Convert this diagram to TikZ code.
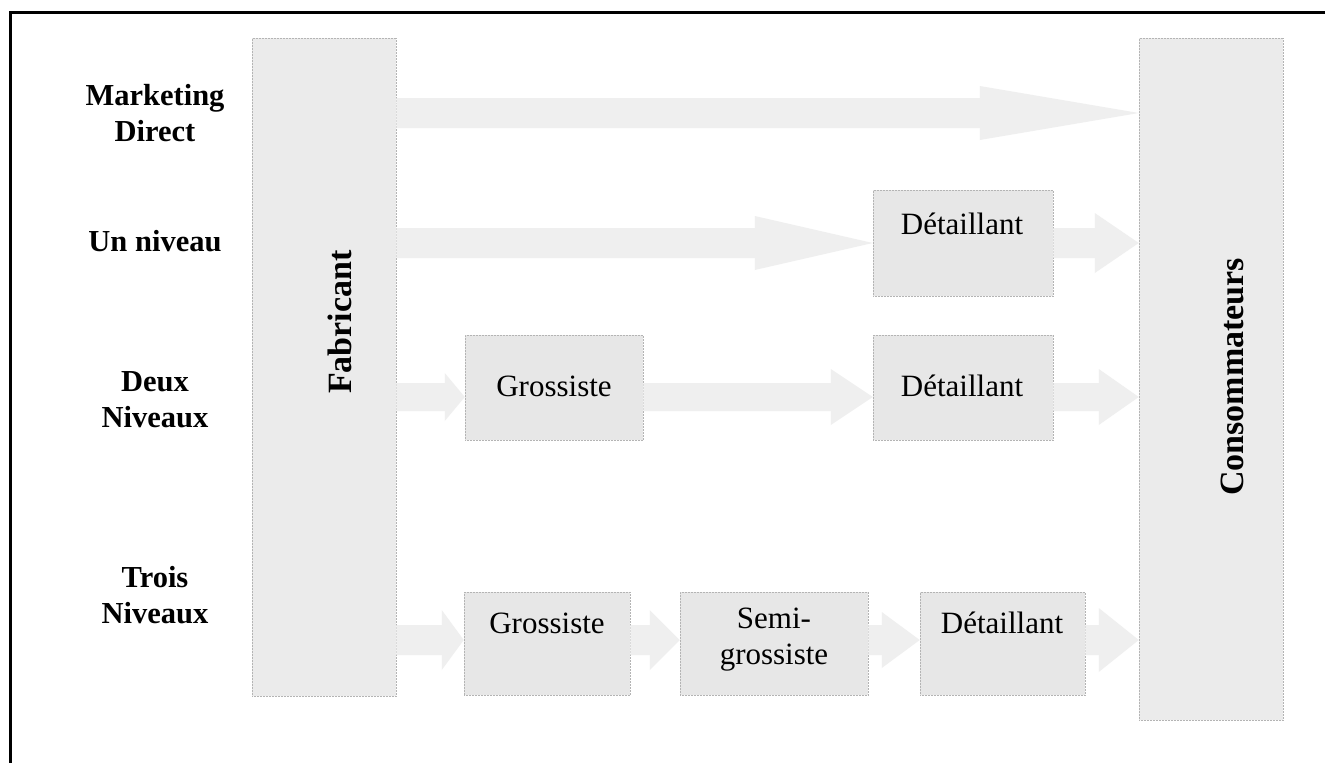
\documentclass[tikz,border=0pt]{standalone}
\usepackage{fontspec}
\setmainfont{Liberation Serif}
\usetikzlibrary{calc}
\definecolor{barfill}{HTML}{EBEBEB}
\definecolor{boxfill}{HTML}{E7E7E7}
\definecolor{arrowfill}{HTML}{EFEFEF}
\definecolor{edgegray}{HTML}{B4B4B4}
% block arrow between two named nodes at the height of a row coordinate
% #1 source, #2 target, #3 row coordinate, #4 shaft half height, #5 head half height, #6 head length
\newcommand{\flowarrow}[6]{%
  \path[flowstyle] let \p1=(#1.east |- #3), \p2=(#2.west |- #3) in
    (\x1,{\y1+#4pt}) -- ({\x2-#6pt},{\y1+#4pt}) -- ({\x2-#6pt},{\y1+#5pt})
    -- (\x2,\y1) -- ({\x2-#6pt},{\y1-#5pt}) -- ({\x2-#6pt},{\y1-#4pt})
    -- (\x1,{\y1-#4pt}) -- cycle;}
\begin{document}
\begin{tikzpicture}[x=1pt,y=-1pt,
  bar/.style={draw=edgegray,densely dotted,line width=0.5pt,fill=barfill,
    minimum width=144pt,inner sep=0pt},
  stage/.style={draw=edgegray,densely dotted,line width=0.5pt,fill=boxfill,
    inner sep=0pt},
  flowstyle/.style={fill=arrowfill},
  rowlabel/.style={font=\fontsize{30.5}{36}\selectfont\bfseries,align=center},
  stagetext/.style={font=\fontsize{31}{36}\selectfont,align=center},
  bartext/.style={font=\fontsize{34}{40}\selectfont\bfseries,rotate=90}]
\clip (0,0) rectangle (1325,763);
\fill[white] (0,0) rectangle (1325,763);
% open frame
\draw[line width=3pt] (1325,12) -- (10,12) -- (10,763);

% row heights
\coordinate (row1) at (0,113);
\coordinate (row2) at (0,243);
\coordinate (row3) at (0,397);
\coordinate (row4) at (0,640);

% row labels
\node[rowlabel] (l1) at (155,113) {Marketing\\Direct};
\node[rowlabel] (l2) at (155,241) {Un niveau};
\node[rowlabel] (l3) at (155,400) {Deux\\Niveaux};
\node[rowlabel] (l4) at (155,595) {Trois\\Niveaux};

% manufacturer and consumers
\node[bar,minimum height=658pt] (fab) at (324,367) {};
\node[bar,minimum height=682pt] (cons) at (1211,379) {};
\node[bartext] (tfab) at (340,322) {Fabricant};
\node[bartext] (tcons) at (1232,377) {Consommateurs};

% intermediaries
\node[stage,minimum width=180pt,minimum height=106pt] (det2) at (963,243) {};
\node[stage,minimum width=178pt,minimum height=105pt] (gros3) at (554,387.5) {};
\node[stage,minimum width=180pt,minimum height=105pt] (det3) at (963,387.5) {};
\node[stage,minimum width=166pt,minimum height=103pt] (gros4) at (547,643.5) {};
\node[stage,minimum width=188pt,minimum height=103pt] (semi4) at (774,643.5) {};
\node[stage,minimum width=165pt,minimum height=103pt] (det4) at (1002.5,643.5) {};

\node[stagetext] (tdet2) at (962,224) {Détaillant};
\node[stagetext] (tgros3) at (554,386) {Grossiste};
\node[stagetext] (tdet3) at (962,386) {Détaillant};
\node[stagetext] (tgros4) at (547,623) {Grossiste};
\node[stagetext] (tsemi4) at (774,640) {Semi-\\grossiste};
\node[stagetext] (tdet4) at (1002,623) {Détaillant};

% flows
\flowarrow{fab}{cons}{row1}{15}{27}{159}
\flowarrow{fab}{det2}{row2}{15}{27}{118}
\flowarrow{det2}{cons}{row2}{15}{30}{44}
\flowarrow{fab}{gros3}{row3}{14}{24}{20}
\flowarrow{gros3}{det3}{row3}{14}{28}{42}
\flowarrow{det3}{cons}{row3}{14}{28}{40}
\flowarrow{fab}{gros4}{row4}{15}{30}{22}
\flowarrow{gros4}{semi4}{row4}{15}{30}{30}
\flowarrow{semi4}{det4}{row4}{15}{28}{38}
\flowarrow{det4}{cons}{row4}{15}{32}{40}
\end{tikzpicture}
\end{document}
